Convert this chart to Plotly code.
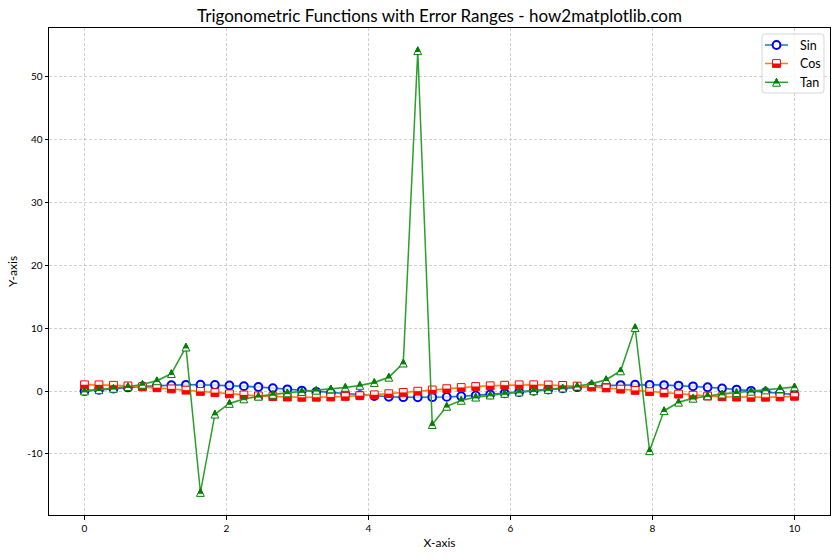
import plotly.graph_objects as go

# ---------------- data ----------------
x = [0.000, 0.204, 0.408, 0.612, 0.816, 1.020, 1.224, 1.429, 1.633, 1.837,
     2.041, 2.245, 2.449, 2.653, 2.857, 3.061, 3.265, 3.469, 3.673, 3.878,
     4.082, 4.286, 4.490, 4.694, 4.898, 5.102, 5.306, 5.510, 5.714, 5.918,
     6.122, 6.327, 6.531, 6.735, 6.939, 7.143, 7.347, 7.551, 7.755, 7.959,
     8.163, 8.367, 8.571, 8.776, 8.980, 9.184, 9.388, 9.592, 9.796, 10.000]

y_sin = [0.00, 0.20, 0.40, 0.57, 0.73, 0.85, 0.94, 0.99, 1.00, 0.96,
         0.89, 0.78, 0.64, 0.47, 0.28, 0.08, -0.12, -0.32, -0.50, -0.67,
         -0.80, -0.91, -0.98, -1.00, -0.98, -0.93, -0.83, -0.70, -0.54, -0.36,
         -0.16, 0.04, 0.24, 0.44, 0.61, 0.76, 0.87, 0.95, 1.00, 0.99,
         0.95, 0.87, 0.75, 0.60, 0.43, 0.24, 0.04, -0.17, -0.36, -0.54]

y_cos = [1.00, 0.98, 0.92, 0.82, 0.69, 0.52, 0.34, 0.14, -0.06, -0.26,
         -0.45, -0.62, -0.77, -0.88, -0.96, -1.00, -0.99, -0.95, -0.86, -0.74,
         -0.60, -0.42, -0.22, -0.02, 0.18, 0.38, 0.56, 0.72, 0.84, 0.93,
         0.99, 1.00, 0.97, 0.90, 0.79, 0.65, 0.49, 0.30, 0.10, -0.10,
         -0.30, -0.49, -0.66, -0.80, -0.90, -0.97, -1.00, -0.99, -0.93, -0.84]

y_tan = [0.00, 0.21, 0.43, 0.70, 1.06, 1.63, 2.77, 6.98, -16.12, -3.67,
         -1.97, -1.25, -0.83, -0.53, -0.29, -0.08, 0.12, 0.34, 0.58, 0.90,
         1.35, 2.19, 4.44, 54.09, -5.33, -2.43, -1.48, -0.97, -0.64, -0.38,
         -0.16, 0.04, 0.25, 0.48, 0.77, 1.16, 1.80, 3.20, 10.07, -9.49,
         -3.13, -1.78, -1.15, -0.76, -0.48, -0.25, -0.04, 0.17, 0.39, 0.65]

err = 0.2
series_names = ["Sin", "Cos", "Tan"]
x_ticks = [0, 2, 4, 6, 8, 10]
y_ticks = [-10, 0, 10, 20, 30, 40, 50]

# ---------------- styles ----------------
FONT = "Lato"
C0, C1, C2 = "#1f77b4", "#ff7f0e", "#2ca02c"
BAND = ["rgba(31,119,180,0.2)", "rgba(255,127,14,0.2)", "rgba(44,160,44,0.2)"]
MS = 7.8          # marker size in px
H = MS / 2

fig = go.Figure()


def add_band(y, color):
    lo = [v - err for v in y]
    hi = [v + err for v in y]
    fig.add_trace(go.Scatter(x=x, y=lo, mode="lines", line=dict(width=0),
                             showlegend=False, hoverinfo="skip"))
    fig.add_trace(go.Scatter(x=x, y=hi, mode="lines", line=dict(width=0),
                             fill="tonexty", fillcolor=color,
                             showlegend=False, hoverinfo="skip"))


# Sin
fig.add_trace(go.Scatter(x=x, y=y_sin, mode="lines+markers", name=series_names[0],
                         line=dict(color=C0, width=1.5),
                         marker=dict(symbol="circle", size=MS, color="white",
                                     line=dict(color="blue", width=2)),
                         showlegend=False))
add_band(y_sin, BAND[0])
# Cos
fig.add_trace(go.Scatter(x=x, y=y_cos, mode="lines+markers", name=series_names[1],
                         line=dict(color=C1, width=1.5),
                         marker=dict(symbol="square", size=MS, color="white",
                                     line=dict(color="red", width=1)),
                         showlegend=False))
add_band(y_cos, BAND[1])
# Tan
fig.add_trace(go.Scatter(x=x, y=y_tan, mode="lines", name=series_names[2],
                         line=dict(color=C2, width=1.5), showlegend=False))
add_band(y_tan, BAND[2])

shapes = []
tri_full = f"M0,{H} L{-H},{-H} L{H},{-H} Z"
tri_top = f"M0,{H} L{-0.6*H},{-0.2*H} L{0.6*H},{-0.2*H} Z"

# half-filled markers (bottom-filled squares for Cos, top-filled triangles for Tan)
for xi, yi in zip(x, y_cos):
    shapes.append(dict(type="rect", xref="x", yref="y", xsizemode="pixel", ysizemode="pixel",
                       xanchor=xi, yanchor=yi, x0=-H, x1=H, y0=-H, y1=0,
                       fillcolor="red", line=dict(width=0), layer="above"))
for xi, yi in zip(x, y_tan):
    shapes.append(dict(type="path", xref="x", yref="y", xsizemode="pixel", ysizemode="pixel",
                       xanchor=xi, yanchor=yi, path=tri_full,
                       fillcolor="white", line=dict(color="green", width=1), layer="above"))
    shapes.append(dict(type="path", xref="x", yref="y", xsizemode="pixel", ysizemode="pixel",
                       xanchor=xi, yanchor=yi, path=tri_top,
                       fillcolor="green", line=dict(color="green", width=1), layer="above"))

# ---------------- manual legend (upper right) ----------------
def pshape(**kw):
    d = dict(xref="paper", yref="paper", xsizemode="pixel", ysizemode="pixel",
             xanchor=1, yanchor=1, layer="above")
    d.update(kw)
    return d

r = 3
bx0, bx1, by0, by1 = -68, -6, -65, -6
box_path = (f"M{bx0+r},{by1} L{bx1-r},{by1} Q{bx1},{by1} {bx1},{by1-r} "
            f"L{bx1},{by0+r} Q{bx1},{by0} {bx1-r},{by0} L{bx0+r},{by0} "
            f"Q{bx0},{by0} {bx0},{by0+r} L{bx0},{by1-r} Q{bx0},{by1} {bx0+r},{by1} Z")
shapes.append(pshape(type="path", path=box_path, fillcolor="rgba(255,255,255,0.8)",
                     line=dict(color="rgba(204,204,204,0.8)", width=1)))

rows = [-17, -35.5, -54.3]
line_colors = [C0, C1, C2]
mx = -53.5
annotations = []
for name, ry, lc in zip(series_names, rows, line_colors):
    shapes.append(pshape(type="line", x0=-65, x1=-42, y0=ry, y1=ry,
                         line=dict(color=lc, width=1.5)))
    annotations.append(dict(xref="paper", yref="paper", x=1, y=1, xshift=-32, yshift=ry,
                            xanchor="left", yanchor="middle", text=name, showarrow=False,
                            font=dict(family=FONT, size=12.5, color="black")))
# Sin legend marker
shapes.append(pshape(type="circle", x0=mx - H, x1=mx + H, y0=rows[0] - H, y1=rows[0] + H,
                     fillcolor="white", line=dict(color="blue", width=2)))
# Cos legend marker
shapes.append(pshape(type="rect", x0=mx - H, x1=mx + H, y0=rows[1] - H, y1=rows[1] + H,
                     fillcolor="white", line=dict(color="red", width=1)))
shapes.append(pshape(type="rect", x0=mx - H, x1=mx + H, y0=rows[1] - H, y1=rows[1],
                     fillcolor="red", line=dict(width=0)))
# Tan legend marker
ty = rows[2]
shapes.append(pshape(type="path",
                     path=f"M{mx},{ty+H} L{mx-H},{ty-H} L{mx+H},{ty-H} Z",
                     fillcolor="white", line=dict(color="green", width=1)))
shapes.append(pshape(type="path",
                     path=f"M{mx},{ty+H} L{mx-0.6*H},{ty-0.2*H} L{mx+0.6*H},{ty-0.2*H} Z",
                     fillcolor="green", line=dict(color="green", width=1)))

axis_common = dict(showline=True, linecolor="black", linewidth=1, mirror=True,
                   ticks="outside", ticklen=3.5, tickwidth=0.8, tickcolor="black",
                   showgrid=True, gridcolor="rgba(176,176,176,0.6)", gridwidth=0.8,
                   griddash="3px,2px", zeroline=False,
                   tickfont=dict(family=FONT, size=10, color="black"))

fig.update_layout(
    width=840, height=560,
    margin=dict(l=49, r=10, t=28, b=45),
    paper_bgcolor="white", plot_bgcolor="white",
    title=dict(text="Trigonometric Functions with Error Ranges - how2matplotlib.com",
               x=0.5, xref="paper", xanchor="center",
               y=1 - 16 / 560, yref="container", yanchor="middle",
               font=dict(family=FONT, size=17, color="black")),
    xaxis=dict(range=[-0.5, 10.5], tickvals=x_ticks, ticktext=[str(t) for t in x_ticks],
               title=dict(text="X-axis", font=dict(family=FONT, size=12, color="black"),
                          standoff=6),
               **axis_common),
    yaxis=dict(range=[-19.7, 57.7], tickvals=y_ticks, ticktext=[str(t) for t in y_ticks],
               title=dict(text="Y-axis", font=dict(family=FONT, size=12, color="black"),
                          standoff=6),
               **axis_common),
    shapes=shapes,
    annotations=annotations,
    showlegend=False,
)

fig.write_html("out.html")
